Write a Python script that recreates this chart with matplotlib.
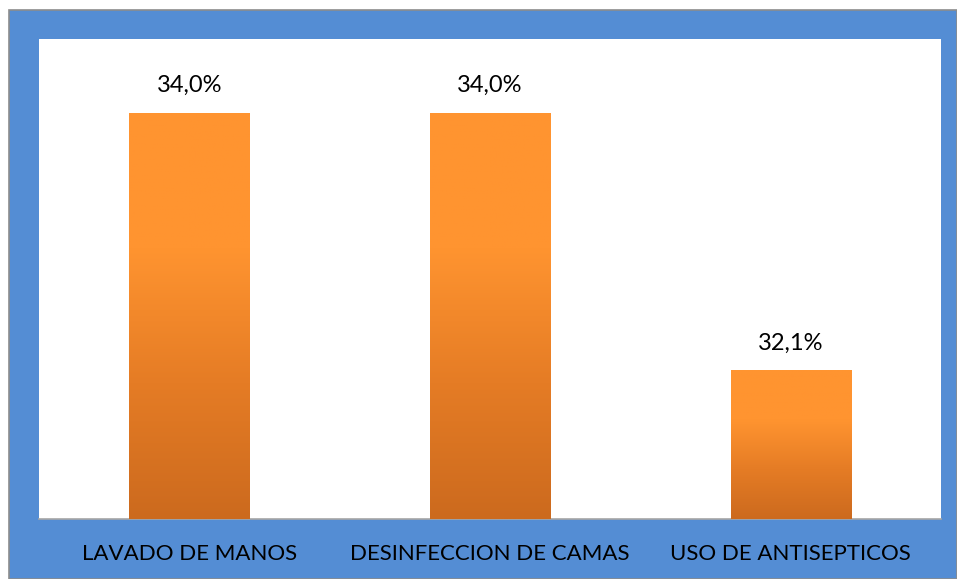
import numpy as np
import matplotlib
matplotlib.use("Agg")
import matplotlib.pyplot as plt
from matplotlib.patches import Rectangle
from matplotlib.colors import LinearSegmentedColormap

# ===================== data =====================
categorias = ["LAVADO DE MANOS", "DESINFECCION DE CAMAS", "USO DE ANTISEPTICOS"]
valores = [34.0, 34.0, 32.1]
etiquetas = ["34,0%", "34,0%", "32,1%"]

plt.rcParams['font.family'] = ['Lato', 'DejaVu Sans']

W, H = 957, 579
fig = plt.figure(figsize=(W / 100, H / 100), dpi=100, facecolor="white")

# marco azul con borde gris
fondo = Rectangle((9 / W, 0), 1 - 9 / W, 1 - 10 / H, transform=fig.transFigure,
                  facecolor="#548DD4", edgecolor="#8C8C8C", linewidth=1.2, zorder=0)
fig.patches.append(fondo)

ax = fig.add_axes([39 / W, 1 - 519 / H, (941 - 39) / W, (519 - 39) / H])
ax.set_facecolor("white")
ax.set_zorder(1)

x = np.arange(len(categorias))
barras = ax.bar(x, valores, width=0.40, color="#F0882A", zorder=2)

ax.set_xlim(-0.5, len(categorias) - 0.5)
ax.set_ylim(31.0, 34.545)

# degradado naranja en cada barra
cmap = LinearSegmentedColormap.from_list("nar", ["#CC6A1E", "#E57C25", "#FF9430", "#FF9430"])
grad = np.linspace(0, 1, 256).reshape(-1, 1)
for b in barras:
    x0, y0 = b.get_x(), b.get_y()
    w, h = b.get_width(), b.get_height()
    im = ax.imshow(grad, cmap=cmap, aspect="auto", origin="lower",
                   extent=(x0, x0 + w, 31.0, y0 + h), zorder=3)
    im.set_clip_path(b)

for xi, v, t in zip(x, valores, etiquetas):
    ax.annotate(t, (xi, v), xytext=(0, 12), textcoords="offset points",
                ha="center", va="bottom", fontsize=17, color="black", zorder=4)

ax.set_xticks(x)
ax.set_xticklabels(categorias, fontsize=16)
ax.tick_params(axis="x", length=0, pad=18)
ax.set_yticks([])
for s in ["top", "left", "right"]:
    ax.spines[s].set_visible(False)
ax.spines["bottom"].set_color("#A6A6A6")
ax.spines["bottom"].set_linewidth(1.2)

fig.savefig("out.png", dpi=100, facecolor=fig.get_facecolor())
